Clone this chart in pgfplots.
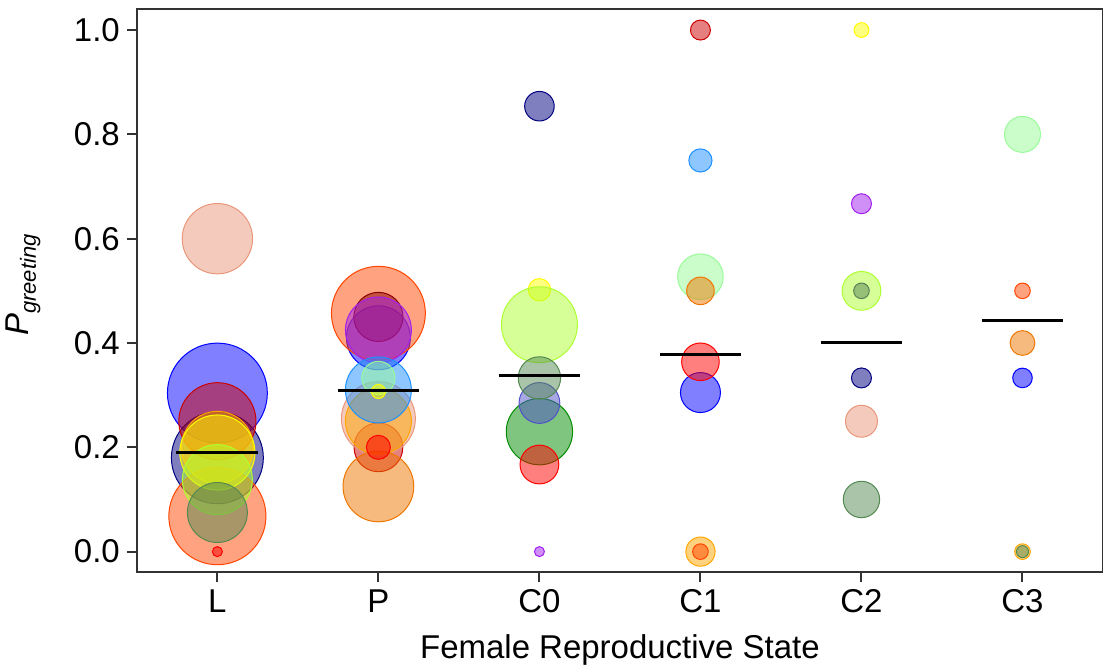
\documentclass[border=0pt]{standalone}
\usepackage{pgfplots}
\pgfplotsset{compat=1.18}
\usepackage{fontspec}
\setmainfont{Liberation Sans}
\definecolor{cblue}{RGB}{0,0,255}
\definecolor{cnavy}{RGB}{0,0,128}
\definecolor{corred}{RGB}{255,69,0}
\definecolor{cred3}{RGB}{205,0,0}
\definecolor{cdarkred}{RGB}{139,0,0}
\definecolor{cpurple}{RGB}{160,32,240}
\definecolor{csalmon}{RGB}{233,150,122}
\definecolor{corange}{RGB}{255,165,0}
\definecolor{cdodger}{RGB}{30,144,255}
\definecolor{cpale}{RGB}{152,251,152}
\definecolor{cdorange}{RGB}{238,118,0}
\definecolor{cyellow}{RGB}{255,255,0}
\definecolor{cgy}{RGB}{173,255,47}
\definecolor{cgfour}{RGB}{0,139,0}
\definecolor{cslate}{RGB}{80,80,200}
\definecolor{cdg}{RGB}{83,137,81}
\definecolor{cred}{RGB}{255,0,0}
\pgfplotsset{bub/.style={scatter, only marks, mark=*,
  scatter/use mapped color={draw=#1, fill=#1},
  fill opacity=0.5, draw opacity=1, line width=0.5pt,
  visualization depends on={\thisrow{r} \as \rad},
  scatter/@pre marker code/.append style={/tikz/mark size=\rad pt}},
  meanline/.style={black, line width=1.5pt, on layer=axis foreground}}
\begin{document}
\begin{tikzpicture}
\begin{axis}[
  set layers,
  scale only axis, width=483.5pt, height=281.9pt,
  xmin=0.5, xmax=6.5, ymin=-0.04, ymax=1.04,
  xtick={1,2,3,4,5,6}, xticklabels={L,P,C0,C1,C2,C3},
  ytick={0,0.2,0.4,0.6,0.8,1.0},
  yticklabel style={/pgf/number format/.cd, fixed, fixed zerofill, precision=1},
  /pgf/number format/assume math mode=true,
  tick pos=left, tick align=outside, major tick length=5pt,
  axis line style={line width=1pt, color=black!80},
  tick style={line width=1pt, color=black!80},
  ticklabel style={font=\fontsize{16.5}{19}\selectfont},
  label style={font=\fontsize{16.5}{19}\selectfont},
  xlabel={Female Reproductive State},
  ylabel={\textit{P}\raisebox{-0.4ex}{\fontsize{11}{12}\selectfont\textit{greeting}}},
  xlabel style={at={(axis description cs:0.5,-0.138)}, anchor=center},
  ylabel style={at={(axis description cs:-0.1175,0.51)}, anchor=center},
]
\addplot[bub=cblue] table {
x y r
1 0.304 25
2 0.41 16
4 0.305 10
6 0.333 4.9
};
\addplot[bub=cnavy] table {
x y r
1 0.18 23
3 0.854 7.4
5 0.5 3.9
5 0.333 5
};
\addplot[bub=corred] table {
x y r
1 0.068 24.3
2 0.457 23.5
6 0.5 3.9
};
\addplot[bub=cred3] table {
x y r
1 0.25 19.3
2 0.2 12.2
4 1.0 5
};
\addplot[bub=cdarkred] table {
x y r
2 0.45 12.3
};
\addplot[bub=cpurple] table {
x y r
2 0.425 16.5
3 0.0 2.5
5 0.667 5
};
\addplot[bub=csalmon] table {
x y r
1 0.6 17.6
2 0.255 18.5
5 0.25 8
};
\addplot[bub=corange] table {
x y r
1 0.2 18
2 0.25 16.5
4 0.0 7.3
6 0.0 3.9
};
\addplot[bub=corred] table {
x y r
4 0.0 3.9
};
\addplot[bub=cdodger] table {
x y r
2 0.31 16.5
4 0.75 5.8
};
\addplot[bub=cpale] table {
x y r
2 0.333 8.3
4 0.527 11.4
6 0.8 9
};
\addplot[bub=cdorange] table {
x y r
2 0.125 17.7
4 0.5 6.9
6 0.4 6.2
};
\addplot[bub=cyellow] table {
x y r
1 0.19 18.8
2 0.307 3.5
3 0.502 5.6
5 1.0 3.7
};
\addplot[bub=cgy] table {
x y r
1 0.138 17.5
3 0.435 19
5 0.5 9.7
};
\addplot[bub=cgfour] table {
x y r
3 0.23 16.6
};
\addplot[bub=cslate] table {
x y r
3 0.285 10.2
};
\addplot[bub=cdg] table {
x y r
1 0.075 15
3 0.333 10.6
5 0.1 9.1
6 0.0 3
};
\addplot[bub=cred] table {
x y r
1 0.0 2.5
2 0.2 6
3 0.167 9.7
4 0.364 9.4
};
\addplot[meanline] coordinates {(0.746,0.19) (1.254,0.19)};
\addplot[meanline] coordinates {(1.746,0.309) (2.254,0.309)};
\addplot[meanline] coordinates {(2.746,0.338) (3.254,0.338)};
\addplot[meanline] coordinates {(3.746,0.378) (4.254,0.378)};
\addplot[meanline] coordinates {(4.746,0.400) (5.254,0.400)};
\addplot[meanline] coordinates {(5.746,0.4425) (6.254,0.4425)};
\end{axis}
\pgfresetboundingbox
\path[use as bounding box] (-68.5pt,-46.5pt) rectangle (483.5pt,286.5pt);
\end{tikzpicture}
\end{document}
